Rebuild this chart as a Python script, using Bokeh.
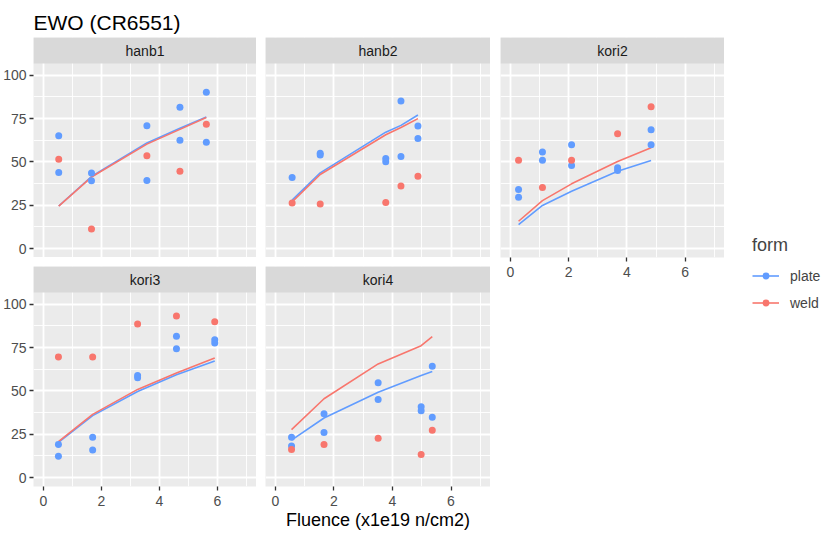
from bokeh.plotting import figure
from bokeh.models import Range1d, FixedTicker, Legend, LegendItem
from bokeh.layouts import row, column
from bokeh.embed import file_html
from bokeh.resources import INLINE
from bokeh.core.properties import value

# ---------------- data ----------------
panels = ["hanb1", "hanb2", "kori2", "kori3", "kori4"]
forms = ["plate", "weld"]

hanb1_plate_x = [0.53, 0.53, 1.66, 1.66, 3.57, 3.57, 4.71, 4.71, 5.62, 5.62]
hanb1_plate_y = [65.1, 43.9, 43.7, 39.1, 70.9, 39.3, 81.5, 62.6, 90.2, 61.4]
hanb1_weld_x = [0.53, 1.66, 3.57, 4.71, 5.62]
hanb1_weld_y = [51.6, 11.4, 53.6, 44.7, 71.7]
hanb1_fit_x = [0.53, 1.66, 3.57, 4.71, 5.62]
hanb1_fit_plate = [24.6, 41.6, 61.0, 69.5, 76.0]
hanb1_fit_weld = [24.5, 41.3, 60.3, 68.8, 75.6]

hanb2_plate_x = [0.57, 1.53, 1.53, 3.77, 3.77, 4.29, 4.29, 4.87, 4.87]
hanb2_plate_y = [41.0, 55.0, 54.0, 52.0, 50.1, 85.2, 53.2, 70.7, 63.6]
hanb2_weld_x = [0.57, 1.53, 3.77, 4.29, 4.87]
hanb2_weld_y = [26.4, 25.8, 26.6, 36.2, 41.8]
hanb2_fit_x = [0.57, 1.53, 3.77, 4.29, 4.87]
hanb2_fit_plate = [28.0, 43.7, 67.2, 71.1, 77.1]
hanb2_fit_weld = [27.0, 42.8, 65.7, 69.9, 75.0]

kori2_plate_x = [0.28, 0.28, 1.10, 1.10, 2.10, 2.10, 3.68, 3.68, 4.83, 4.83]
kori2_plate_y = [34.1, 29.7, 55.7, 51.0, 59.9, 48.0, 46.6, 45.1, 68.6, 59.9]
kori2_weld_x = [0.28, 1.10, 2.10, 3.68, 4.83]
kori2_weld_y = [51.0, 35.3, 51.0, 66.3, 81.9]
kori2_fit_x = [0.28, 1.10, 2.10, 3.68, 4.83]
kori2_fit_plate = [13.9, 24.9, 33.1, 44.7, 50.9]
kori2_fit_weld = [15.8, 27.7, 37.4, 50.3, 58.2]

kori3_plate_x = [0.52, 0.52, 1.70, 1.70, 3.25, 3.25, 4.59, 4.59, 5.91, 5.91]
kori3_plate_y = [19.1, 12.4, 23.3, 15.9, 58.9, 57.6, 81.6, 74.4, 79.5, 77.6]
kori3_weld_x = [0.52, 1.70, 3.25, 4.59, 5.91]
kori3_weld_y = [69.6, 69.6, 88.7, 93.3, 90.0]
kori3_fit_x = [0.52, 1.70, 3.25, 4.59, 5.91]
kori3_fit_plate = [20.3, 35.8, 49.7, 59.3, 67.3]
kori3_fit_weld = [20.8, 36.5, 50.9, 60.4, 69.0]

kori4_plate_x = [0.55, 0.55, 1.66, 1.66, 3.51, 3.51, 4.98, 4.98, 5.36, 5.36]
kori4_plate_y = [23.3, 18.3, 36.9, 26.0, 54.7, 45.1, 40.9, 38.6, 64.2, 34.8]
kori4_weld_x = [0.55, 1.66, 3.51, 4.98, 5.36]
kori4_weld_y = [16.3, 19.1, 22.8, 13.4, 27.4]
kori4_fit_x = [0.55, 1.66, 3.51, 4.98, 5.36]
kori4_fit_plate = [21.6, 34.4, 49.3, 58.9, 61.2]
kori4_fit_weld = [27.7, 45.5, 65.6, 76.1, 81.4]

x_ticks = [0, 2, 4, 6]
x_minor = [1, 3, 5, 7]
y_ticks = [0, 25, 50, 75, 100]
y_minor = [12.5, 37.5, 62.5, 87.5]

title_text = "EWO (CR6551)"
x_label = "Fluence (x1e19 n/cm2)"
legend_title = "form"

# ---------------- style ----------------
FONT = "Liberation Sans"
COLORS = {"plate": "#619CFF", "weld": "#F8766D"}
X_LO, X_HI = -0.34, 7.35
Y_LO, Y_HI = -5.1, 106.8
PANEL_H, STRIP_H = 194, 26
FRAME_H = PANEL_H + STRIP_H
Y_TOP = Y_HI + (Y_HI - Y_LO) * STRIP_H / PANEL_H
ROW_GAP = 9
LEFT_AX = 31
TOP_M = 37
BOTTOM_AX = 50

DATA = {
    "hanb1": (hanb1_plate_x, hanb1_plate_y, hanb1_weld_x, hanb1_weld_y, hanb1_fit_x, hanb1_fit_plate, hanb1_fit_weld),
    "hanb2": (hanb2_plate_x, hanb2_plate_y, hanb2_weld_x, hanb2_weld_y, hanb2_fit_x, hanb2_fit_plate, hanb2_fit_weld),
    "kori2": (kori2_plate_x, kori2_plate_y, kori2_weld_x, kori2_weld_y, kori2_fit_x, kori2_fit_plate, kori2_fit_weld),
    "kori3": (kori3_plate_x, kori3_plate_y, kori3_weld_x, kori3_weld_y, kori3_fit_x, kori3_fit_plate, kori3_fit_weld),
    "kori4": (kori4_plate_x, kori4_plate_y, kori4_weld_x, kori4_weld_y, kori4_fit_x, kori4_fit_plate, kori4_fit_weld),
}


def make_panel(name, left, frame_w, show_y, show_x, top, bottom, xlabel=None, title=None):
    p = figure(width=left + frame_w, height=top + FRAME_H + bottom,
               x_range=Range1d(X_LO, X_HI), y_range=Range1d(Y_LO, Y_TOP),
               output_backend="svg", toolbar_location=None,
               min_border_left=left, min_border_right=0,
               min_border_top=top, min_border_bottom=bottom,
               background_fill_color="#EBEBEB", border_fill_color="white",
               outline_line_color=None)
    xt = FixedTicker(ticks=x_ticks, minor_ticks=x_minor)
    yt = FixedTicker(ticks=y_ticks, minor_ticks=y_minor)
    p.xaxis.ticker = xt
    p.yaxis.ticker = yt
    p.xgrid.ticker = xt
    p.ygrid.ticker = yt
    for g in (p.xgrid, p.ygrid):
        g.grid_line_color = "white"
        g.grid_line_width = 1.8
        g.minor_grid_line_color = "white"
        g.minor_grid_line_width = 0.9
    for ax in (p.xaxis, p.yaxis):
        ax.axis_line_color = None
        ax.major_tick_line_color = "#333333"
        ax.major_tick_line_width = 1.3
        ax.major_tick_in = 0
        ax.major_tick_out = 4
        ax.minor_tick_line_color = None
        ax.major_label_text_font = FONT
        ax.major_label_text_font_size = "14px"
        ax.major_label_text_color = "#4D4D4D"
    p.xaxis.major_label_standoff = 5
    p.yaxis.major_label_standoff = 3
    p.yaxis.visible = show_y
    p.xaxis.visible = show_x
    if xlabel:
        p.xaxis.axis_label = xlabel
        p.xaxis.axis_label_text_font = FONT
        p.xaxis.axis_label_text_font_size = "18px"
        p.xaxis.axis_label_text_font_style = "normal"
        p.xaxis.axis_label_text_color = "black"
        p.xaxis.axis_label_standoff = 1
    if title:
        p.title.text = title
        p.title.text_font = FONT
        p.title.text_font_size = "21px"
        p.title.text_font_style = "normal"
        p.title.text_color = "black"
        p.title.align = "left"
        p.title.standoff = 8
    # facet strip
    p.quad(left=[X_LO], right=[X_HI], bottom=[Y_HI], top=[Y_TOP],
           fill_color="#D9D9D9", line_color=None)
    p.text(x=[(X_LO + X_HI) / 2], y=[(Y_HI + Y_TOP) / 2], text=[name],
           text_align="center", text_baseline="middle",
           text_font=value(FONT), text_font_size="14px", text_color="#1A1A1A")
    px, py, wx, wy, fx, fp, fw = DATA[name]
    p.line(fx, fp, line_color=COLORS["plate"], line_width=1.6)
    p.line(fx, fw, line_color=COLORS["weld"], line_width=1.6)
    p.scatter(px, py, size=7, fill_color=COLORS["plate"], line_color=None)
    p.scatter(wx, wy, size=7, fill_color=COLORS["weld"], line_color=None)
    return p


f_hanb1 = make_panel("hanb1", LEFT_AX, 225, True, False, TOP_M, 0, title=title_text)
f_hanb2 = make_panel("hanb2", 9, 225, False, False, TOP_M, 0)
f_kori2 = make_panel("kori2", 10, 224, False, True, TOP_M, 32)
f_kori3 = make_panel("kori3", LEFT_AX, 225, True, True, ROW_GAP, BOTTOM_AX)
f_kori4 = make_panel("kori4", 9, 225, False, True, ROW_GAP, BOTTOM_AX, xlabel=x_label)

total_h = TOP_M + FRAME_H + ROW_GAP + FRAME_H + BOTTOM_AX

# legend figure
nan = float("nan")
lf = figure(width=110, height=total_h, x_range=Range1d(0, 1), y_range=Range1d(0, 1),
            output_backend="svg", toolbar_location=None, min_border=0,
            outline_line_color=None, background_fill_color="white")
lf.axis.visible = False
lf.grid.visible = False
items = []
for fm in forms:
    rl = lf.line(x=[nan, nan], y=[nan, nan], line_color=COLORS[fm], line_width=1.6)
    rs = lf.scatter(x=[nan], y=[nan], size=7, fill_color=COLORS[fm], line_color=None)
    items.append(LegendItem(label=fm, renderers=[rl, rs]))
leg = Legend(items=items, title=legend_title, location=(28, 225),
             title_text_font=FONT, title_text_font_size="18px",
             title_text_font_style="normal", title_standoff=11,
             label_text_font=FONT, label_text_font_size="14px",
             glyph_width=27, glyph_height=17, label_height=17,
             label_standoff=11, spacing=10, padding=0, margin=0,
             border_line_color=None, background_fill_alpha=0)
lf.add_layout(leg, "center")

layout = row(column(f_hanb1, f_kori3), column(f_hanb2, f_kori4), column(f_kori2), lf)

open("out.html", "w").write(file_html(layout, INLINE))
